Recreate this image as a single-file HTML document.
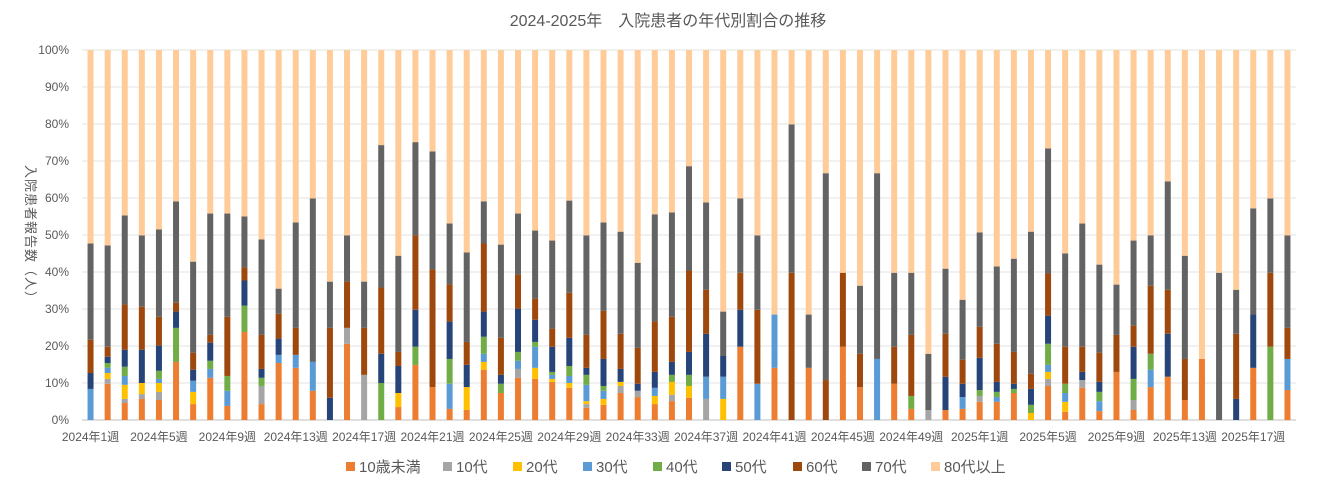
<!DOCTYPE html>
<html><head><meta charset="utf-8"><style>
body{margin:0;background:#fff;font-family:"Liberation Sans","Noto Sans CJK JP",sans-serif}
</style></head><body>
<svg id="chart" width="1336" height="489" xmlns="http://www.w3.org/2000/svg" style="display:block">
<text x="668" y="26" text-anchor="middle" font-size="16" fill="#595959" font-family="Liberation Sans, Noto Sans CJK JP, sans-serif">2024-2025年　入院患者の年代別割合の推移</text>
<text transform="translate(26,235) rotate(90)" text-anchor="middle" font-size="13" fill="#595959" font-family="Liberation Sans, Noto Sans CJK JP, sans-serif" letter-spacing="1">入院患者報告数（人）</text>
<g id="grid"></g><g id="bars"></g><g id="xl"></g><g id="legend"></g>
</svg>
<script>
const seriesNames=["10歳未満","10代","20代","30代","40代","50代","60代","70代","80代以上"];
const u10=[0,9.8,4.6,5.7,5.4,15.7,4.3,11.4,3.8,23.8,4.3,15.4,14.1,7.9,0,20.6,0,0,3.5,14.9,8.9,3,2.7,13.6,7.3,11.4,11.1,10.3,8.7,3.3,4.1,7.3,6.2,4.3,5.1,6,0,0,19.8,0,14.1,0,14.1,0,19.8,8.9,0,9.8,3,0,2.7,3,4.9,4.9,7.3,0,9.2,2.2,8.7,2.4,13,2.7,8.9,11.7,5.4,16.5,0,0,14.1,0,8.1];
const s10=[0,1.3,1.1,1.3,2.2,0,0,0,0,0,4.9,0,0,0,0,4.3,12.2,0,0,0,0,0,0,0,0,2.4,0,0,0,1,0,1.9,1.7,0,1.7,0,5.7,0,0,0,0,0,0,0,0,0,0,0,0,2.7,0,0,1.6,0,0,0,1.9,0,2.1,0,0,2.7,0,0,0,0,0,0,0,0,0];
const s20=[0,1.6,3.8,3,2.4,0,3.3,0,0,0,0,0,0,0,0,0,0,0,3.8,0,0,0,6.2,2.1,0,0,3,0.8,1.3,0.8,1.6,1.1,0,2.2,3.5,3.2,0,5.7,0,0,0,0,0,0,0,0,0,0,0,0,0,0,0,0,0,1.9,1.9,2.7,0,0,0,0,0,0,0,0,0,0,0,0,0];
const s30=[8.4,1.4,2.4,0,1.1,0,3,2.4,4.1,0,0,2.2,3.5,7.8,0,0,0,0,0,0,0,6.8,0,2.2,0,2.2,5.7,1.1,1.9,4.4,2.2,0,0,2.2,0,0,6,6,0,9.8,14.4,0,0,0,0,0,16.5,0,0,0,0,3.2,0,1.3,0,0,1.9,2.4,0,2.7,0,0,4.7,0,0,0,0,0,0,0,8.4];
const s40=[0,1.3,2.5,0,2.2,9.2,0,2.2,4,7.1,2.2,0,0,0,0,0,0,10,0,4.9,0,6.7,0,4.6,2.5,2.4,1.3,0.8,2.7,2.7,1.3,0,0,0,1.9,3,0,0,0,0,0,0,0,0,0,0,0,0,3.5,0,0,0,1.6,1.4,1.1,2.2,5.7,2.5,0,2.5,0,5.7,4.3,0,0,0,0,0,0,19.8,0];
const s50=[4.3,1.7,4.6,9,6.8,4.4,3,4.9,0,6.8,2.4,4.4,0,0,6,0,0,7.9,7.3,10,0,10.1,6,6.8,2.4,11.7,6,6.8,7.6,1.9,7.3,3.5,1.9,4.3,3.5,6.2,11.6,5.6,10,0,0,0,0,0,0,0,0,0,0,0,9,3.6,8.7,2.7,1.4,4.3,7.6,0,2.2,2.7,0,8.7,0,11.6,0,0,0,5.7,14.4,0,0];
const s60=[9,2.7,12.2,11.6,7.8,2.4,4.6,2.1,16,3.5,9.2,6.7,7.3,0,18.9,12.5,12.7,17.9,3.8,20.1,31.8,10,6.2,18.4,10,9.2,5.7,4.9,12.2,8.9,13,9.5,9.7,13.6,12.2,22,11.9,0,10,20,0,39.8,0,10.8,20,9,0,10,16.5,0,11.6,6.5,8.4,10.3,8.6,4.1,11.4,10,6.8,7.9,10,5.7,18.4,11.9,11.1,0,0,17.6,0,20,8.4];
const s70=[26,27.4,24.1,19.3,23.6,27.4,24.6,32.8,27.9,13.8,25.8,6.8,28.5,44.2,12.5,12.5,12.5,38.5,26,25.2,31.9,16.5,24.2,11.4,25.2,16.5,18.4,23.8,24.9,26.9,23.9,27.6,23,29,28.2,28.2,23.6,12,20.1,20.1,0,40.1,14.4,55.9,0,18.4,50.2,20,16.8,15.2,17.6,16.2,25.5,20.9,25.2,38.4,33.8,25.2,33.3,23.8,13.6,23,13.6,29.3,27.9,0,39.8,11.9,28.7,20.1,25];
const s80=[52.3,52.8,44.7,50.1,48.5,40.9,57.2,44.2,44.2,45,51.2,64.5,46.6,40.1,62.6,50.1,62.6,25.7,55.6,24.9,27.4,46.9,54.7,40.9,52.6,44.2,48.8,51.5,40.7,50.1,46.6,49.1,57.5,44.4,43.9,31.4,41.2,70.7,40.1,50.1,71.5,20.1,71.5,33.3,60.2,63.7,33.3,60.2,60.2,82.1,59.1,67.5,49.3,58.5,56.4,49.1,26.6,55,46.9,58,63.4,51.5,50.1,35.5,55.6,83.5,60.2,64.8,42.8,40.1,50.1];
const yTicks=[0,10,20,30,40,50,60,70,80,90,100];
const categories=[];
for(let w=1;w<=52;w++)categories.push("2024年"+w+"週");
for(let w=1;w<=19;w++)categories.push("2025年"+w+"週");
const series=[u10,s10,s20,s30,s40,s50,s60,s70,s80];
const colors=["#ED7D31","#A5A5A5","#FFC000","#5B9BD5","#70AD47","#264478","#9E480E","#636363","#FFCC99"];
const NS="http://www.w3.org/2000/svg";
const L=82,R=1296,T=50,B=420;
const band=(R-L)/categories.length;
const xc=i=>L+band*(i+0.5);
const y=v=>B-(B-T)*v/100;
function mk(tag,attrs,parent){const e=document.createElementNS(NS,tag);for(const k in attrs)e.setAttribute(k,attrs[k]);parent.appendChild(e);return e;}
const grid=document.getElementById('grid');
yTicks.forEach(t=>{
 const ln=mk('line',{x1:L,x2:R,y1:y(t),y2:y(t),stroke:t===0?'#bfbfbf':'#e3e3e3','stroke-width':1},grid);
 
 
 const tx=mk('text',{x:69,y:y(t)+4,'text-anchor':'end','font-size':12,fill:'#595959'},grid);
 
 
 tx.textContent=t+'%';
});
const bars=document.getElementById('bars');
categories.forEach((c,i)=>{
 let acc=0;
 series.forEach((s,k)=>{
  const v=s[i];
  if(v>0){
   const r=mk('rect',{x:xc(i)-3,width:6,y:y(acc+v),height:y(acc)-y(acc+v),fill:colors[k]},bars);
   
   
  }
  acc+=v;
 });
});
const xl=document.getElementById('xl');
categories.forEach((c,i)=>{
 if(i%4===0){
  const t=mk('text',{x:xc(i),y:441,'text-anchor':'middle','font-size':12,fill:'#595959'},xl);
  
  
  t.textContent=c;
 }
});
const lg=document.getElementById('legend');
const lx=[346,443,513,583,653,722,793,862,931];
seriesNames.forEach((n,k)=>{
 const g=mk('g',{},lg);
 
 
 mk('rect',{x:lx[k],y:462,width:9,height:9,fill:colors[k]},g);
 const t=mk('text',{x:lx[k]+13,y:472,'font-size':15,fill:'#595959'},g);
 t.textContent=n;
});
</script>
</body></html>
